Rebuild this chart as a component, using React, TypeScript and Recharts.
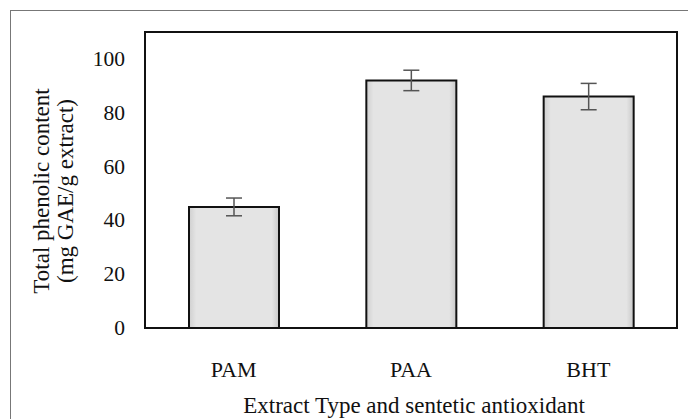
import React from "react";
import { BarChart, Bar, XAxis, YAxis, ErrorBar } from "recharts";

const categories = ["PAM", "PAA", "BHT"];
const phenolic = [45, 92, 86];
const stdErr = [3.3, 3.8, 4.9];
const yTicks = [0, 20, 40, 60, 80, 100];

const data = categories.map((name, i) => ({
  name,
  value: phenolic[i],
  err: stdErr[i],
}));

const font = "Liberation Serif, Times New Roman, serif";
const W = 688;
const H = 419;
const margin = { top: 32, right: 11, left: 85, bottom: 0 };
const yAxisW = 60;
const xAxisH = 91;

function XTick(props: any) {
  const { x, y, payload } = props;
  return (
    <text x={x} y={y} dy={32} textAnchor="middle" fontFamily={font} fontSize={22} fill="#111">
      {payload.value}
    </text>
  );
}

function YTick(props: any) {
  const { x, y, payload } = props;
  return (
    <text x={x} y={y} dy={7} textAnchor="end" fontFamily={font} fontSize={21.5} fill="#111">
      {payload.value}
    </text>
  );
}

function YTitle(props: any) {
  const { viewBox } = props;
  const cy = viewBox.y + viewBox.height / 2 + 11;
  return (
    <g fontFamily={font} fontSize={23} fill="#111">
      <text x={41} y={cy} textAnchor="middle" dominantBaseline="central" transform={`rotate(-90 41 ${cy})`}>
        Total phenolic content
      </text>
      <text x={65} y={cy} textAnchor="middle" dominantBaseline="central" transform={`rotate(-90 65 ${cy})`}>
        (mg GAE/g extract)
      </text>
    </g>
  );
}

function XTitle(props: any) {
  const { viewBox } = props;
  const cx = viewBox.x + viewBox.width / 2 + 3;
  return (
    <text x={cx} y={413} textAnchor="middle" fontFamily={font} fontSize={23} fill="#111">
      Extract Type and sentetic antioxidant
    </text>
  );
}

export default function App() {
  return (
    <div
      style={{
        position: "fixed",
        left: 0,
        top: 0,
        width: W,
        height: H,
        background: "#fff",
        overflow: "hidden",
        fontFamily: font,
      }}
    >
      <div
        style={{
          position: "absolute",
          left: 10,
          top: 10,
          width: 700,
          height: 430,
          borderLeft: "1px solid #777",
          borderTop: "1px solid #777",
        }}
      />
      {/* plot frame */}
      <div
        style={{
          position: "absolute",
          left: margin.left + yAxisW - 1,
          top: margin.top - 1,
          width: W - margin.left - yAxisW - margin.right + 2,
          height: H - margin.top - xAxisH + 2,
          border: "2px solid #111",
          boxSizing: "border-box",
          pointerEvents: "none",
        }}
      />
      <BarChart
        width={W}
        height={H}
        data={data}
        margin={margin}
        style={{ position: "absolute", left: 0, top: 0 }}
      >
        <defs>
          <linearGradient id="barFill" x1="0" y1="0" x2="1" y2="0">
            <stop offset="0%" stopColor="#cfcfcf" />
            <stop offset="8%" stopColor="#e4e4e4" />
            <stop offset="92%" stopColor="#e4e4e4" />
            <stop offset="100%" stopColor="#c8c8c8" />
          </linearGradient>
        </defs>
        <XAxis
          dataKey="name"
          height={xAxisH}
          axisLine={false}
          tickLine={false}
          tickSize={0}
          tickMargin={17}
          tick={<XTick />}
          label={<XTitle />}
        />
        <YAxis
          domain={[0, 110]}
          ticks={yTicks}
          width={yAxisW}
          axisLine={false}
          tickLine={false}
          tickSize={8}
          tickMargin={12}
          tick={<YTick />}
          label={<YTitle />}
        />
        <Bar
          dataKey="value"
          barSize={90}
          fill="url(#barFill)"
          stroke="#111"
          strokeWidth={2}
          isAnimationActive={false}
        >
          <ErrorBar dataKey="err" width={8} stroke="#555" strokeWidth={1.5} />
        </Bar>
      </BarChart>
    </div>
  );
}
